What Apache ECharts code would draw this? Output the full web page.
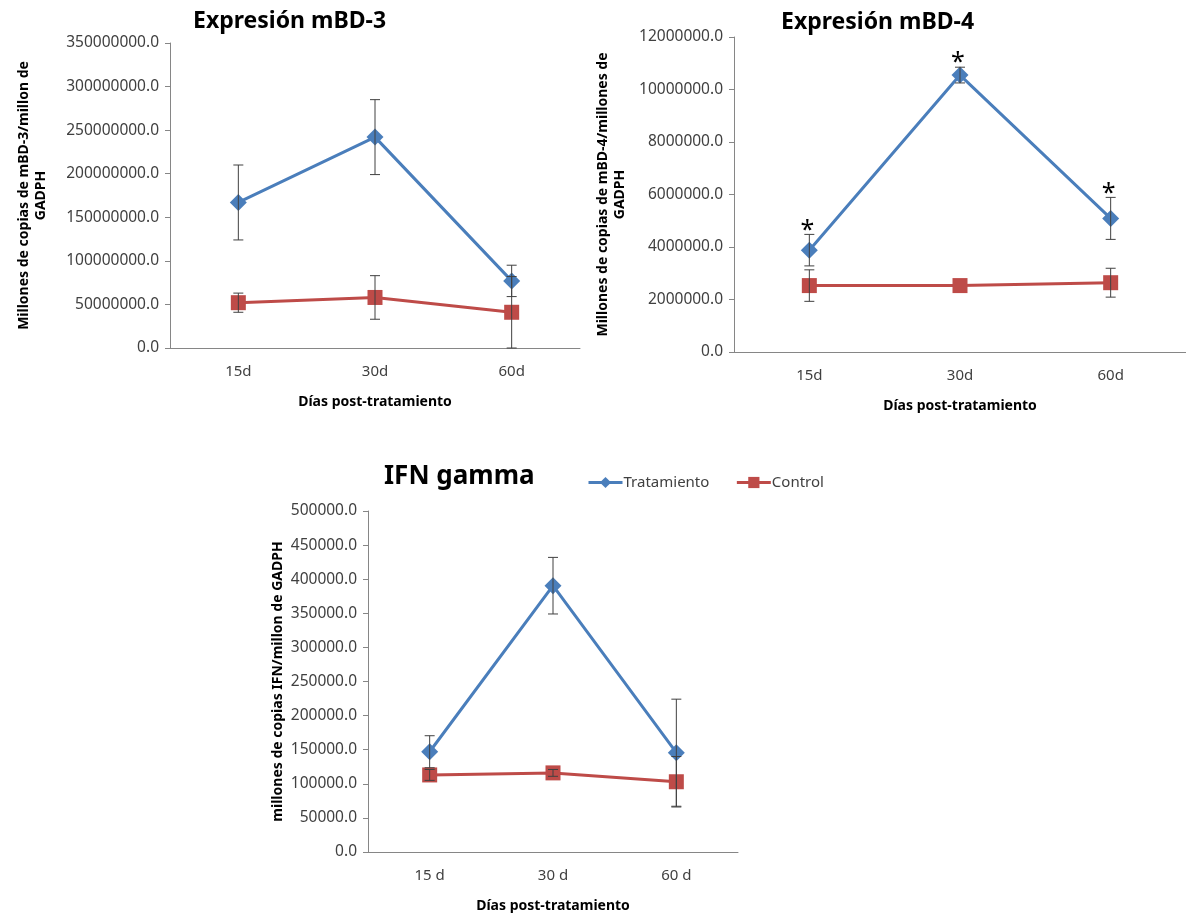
<!DOCTYPE html>
<html>
<head>
<meta charset="utf-8">
<script src="https://cdn.jsdelivr.net/npm/echarts@6/dist/echarts.min.js"></script>
<style>
  html, body { margin: 0; padding: 0; background: #fff; }
  #chart { width: 1186px; height: 915px; }
</style>
</head>
<body>
<div id="chart"></div>
<script>
// categorias
const dias = ['15d', '30d', '60d'];
const diasIfn = ['15 d', '30 d', '60 d'];

// mBD-3
const mbd3Trat = [167000000, 242000000, 77000000];
const mbd3TratErr = [43000000, 43000000, 18000000];
const mbd3Ctrl = [52000000, 58000000, 41000000];
const mbd3CtrlErr = [11000000, 25000000, 41000000];

// mBD-4
const mbd4Trat = [3880000, 10550000, 5090000];
const mbd4TratErr = [600000, 300000, 800000];
const mbd4Ctrl = [2530000, 2530000, 2640000];
const mbd4CtrlErr = [600000, 0, 550000];
const mbd4Stars = ['*', '*', '*'];

// IFN gamma
const ifnTrat = [147000, 390500, 145600];
const ifnTratErr = [23500, 41500, 78500];
const ifnCtrl = [113000, 116000, 103000];
const ifnCtrlErr = [8000, 5000, 37000];

const FONT = 'Noto Sans';
const AXIS_COLOR = '#868686';
const LABEL_COLOR = '#404040';
const BLUE = '#4A7EBB';
const RED = '#BE4B48';

const chart = echarts.init(document.getElementById('chart'));

const xAxisBase = (idx, data) => ({
  type: 'category',
  gridIndex: idx,
  data: data,
  boundaryGap: true,
  axisLine: { lineStyle: { color: AXIS_COLOR } },
  axisTick: { alignWithLabel: false, length: 6, lineStyle: { color: AXIS_COLOR } },
  axisLabel: { color: LABEL_COLOR, fontFamily: FONT, fontSize: 15, margin: 16 },
  name: 'Días post-tratamiento',
  nameLocation: 'middle',
  nameGap: 47,
  nameTextStyle: { color: '#000', fontFamily: FONT, fontSize: 14, fontWeight: 'bold' }
});

const yAxisBase = (idx, max, interval, name, gap) => ({
  type: 'value',
  gridIndex: idx,
  min: 0,
  max: max,
  interval: interval,
  splitLine: { show: false },
  axisLine: { show: true, lineStyle: { color: AXIS_COLOR } },
  axisTick: { show: true, length: 5, lineStyle: { color: AXIS_COLOR } },
  axisLabel: {
    color: LABEL_COLOR, fontFamily: FONT, fontSize: 15.5, margin: 11,
    formatter: v => v.toFixed(1)
  },
  name: name,
  nameLocation: 'middle',
  nameRotate: 90,
  nameGap: gap,
  nameTextStyle: { color: '#000', fontFamily: FONT, fontSize: 14, fontWeight: 'bold', lineHeight: 17 }
});

const lineSeries = (name, idx, data, color, symbol) => ({
  name: name,
  type: 'line',
  xAxisIndex: idx,
  yAxisIndex: idx,
  data: data,
  color: color,
  symbol: symbol,
  symbolSize: symbol === 'diamond' ? 17 : 15,
  lineStyle: { color: color, width: 3 },
  itemStyle: { color: color },
  z: 3
});

const errSeries = (idx, vals, errs, stars) => ({
  type: 'custom',
  xAxisIndex: idx,
  yAxisIndex: idx,
  z: 4,
  silent: true,
  data: vals.map((v, i) => [i, v, errs[i]]),
  renderItem: (params, api) => {
    const i = api.value(0);
    const v = api.value(1);
    const e = api.value(2);
    const hi = api.coord([i, v + e]);
    const lo = api.coord([i, v - e]);
    const st = { stroke: '#404040', lineWidth: 1 };
    const w = 5;
    const children = [];
    if (e > 0) {
      children.push(
        { type: 'line', shape: { x1: hi[0], y1: hi[1], x2: lo[0], y2: lo[1] }, style: st },
        { type: 'line', shape: { x1: hi[0] - w, y1: hi[1], x2: hi[0] + w, y2: hi[1] }, style: st },
        { type: 'line', shape: { x1: lo[0] - w, y1: lo[1], x2: lo[0] + w, y2: lo[1] }, style: st }
      );
    }
    if (stars && stars[params.dataIndex]) {
      children.push({
        type: 'text',
        style: {
          x: hi[0] - 2, y: hi[1] - 4,
          text: stars[params.dataIndex],
          fill: '#000', fontFamily: FONT, fontSize: 25,
          align: 'center', verticalAlign: 'middle'
        }
      });
    }
    return { type: 'group', children: children };
  }
});

const titleStyle = size => ({ color: '#000', fontFamily: FONT, fontSize: size, fontWeight: 'bold' });

chart.setOption({
  backgroundColor: '#fff',
  animation: false,
  title: [
    { text: 'Expresión mBD-3', left: 188, top: 5, textStyle: titleStyle(23) },
    { text: 'Expresión mBD-4', left: 776, top: 6, textStyle: titleStyle(23) },
    { text: 'IFN gamma', left: 379, top: 459, textStyle: titleStyle(26) }
  ],
  legend: {
    data: [
      { name: 'Tratamiento', itemStyle: { color: BLUE }, lineStyle: { color: BLUE, width: 3 } },
      { name: 'Control', itemStyle: { color: RED }, lineStyle: { color: RED, width: 3 } }
    ],
    left: 582,
    top: 470,
    itemWidth: 34,
    itemHeight: 14,
    itemGap: 26,
    textStyle: { color: LABEL_COLOR, fontFamily: FONT, fontSize: 15, padding: [0, 0, 0, -4] }
  },
  grid: [
    { left: 170, top: 43, width: 410, height: 305 },
    { left: 734, top: 37, width: 456, height: 315 },
    { left: 368, top: 511, width: 370, height: 341 }
  ],
  xAxis: [
    xAxisBase(0, dias),
    xAxisBase(1, dias),
    xAxisBase(2, diasIfn)
  ],
  yAxis: [
    yAxisBase(0, 350000000, 50000000, 'Millones de copias de mBD-3/millon de\nGADPH', 120),
    yAxisBase(1, 12000000, 2000000, 'Millones de copias de mBD-4/millones de\nGADPH', 105),
    yAxisBase(2, 500000, 50000, 'millones de copias IFN/millon de GADPH', 77)
  ],
  series: [
    errSeries(0, mbd3Trat, mbd3TratErr),
    errSeries(0, mbd3Ctrl, mbd3CtrlErr),
    lineSeries('Tratamiento', 0, mbd3Trat, BLUE, 'diamond'),
    lineSeries('Control', 0, mbd3Ctrl, RED, 'rect'),

    errSeries(1, mbd4Trat, mbd4TratErr, mbd4Stars),
    errSeries(1, mbd4Ctrl, mbd4CtrlErr),
    lineSeries('Tratamiento', 1, mbd4Trat, BLUE, 'diamond'),
    lineSeries('Control', 1, mbd4Ctrl, RED, 'rect'),

    errSeries(2, ifnTrat, ifnTratErr),
    errSeries(2, ifnCtrl, ifnCtrlErr),
    lineSeries('Tratamiento', 2, ifnTrat, BLUE, 'diamond'),
    lineSeries('Control', 2, ifnCtrl, RED, 'rect')
  ]
});
</script>
</body>
</html>
